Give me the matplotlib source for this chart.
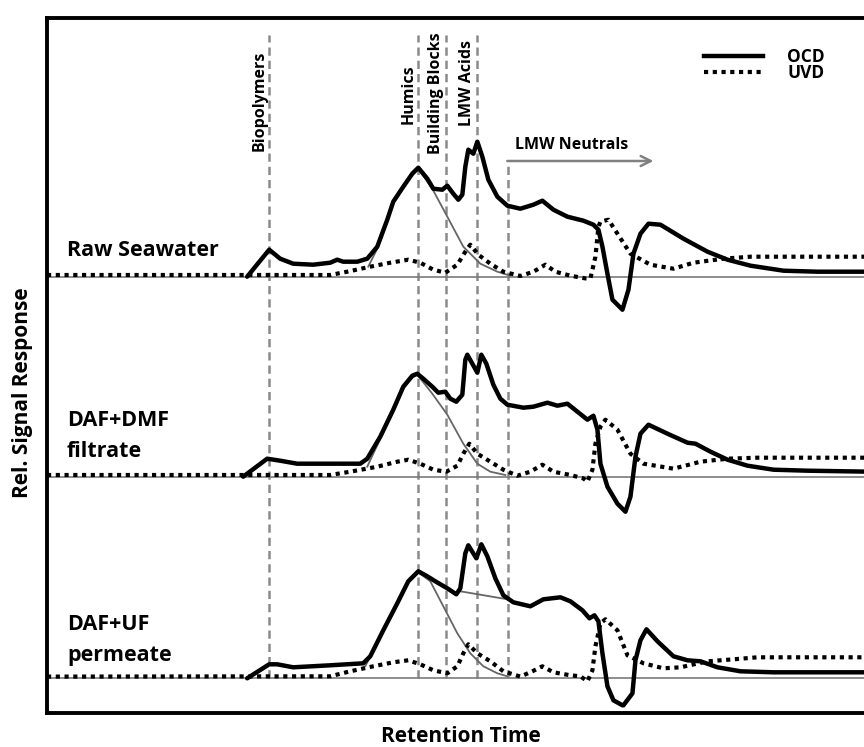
import matplotlib.pyplot as plt
from matplotlib.lines import Line2D

plt.rcParams['font.family'] = ['Open Sans', 'DejaVu Sans']
plt.rcParams['font.weight'] = 'bold'

# --- data (retention time in arbitrary units, signal height above each baseline) ---
samples = ['Raw Seawater', 'DAF+DMF\nfiltrate', 'DAF+UF\npermeate']
offsets = [470.3, 270.3, 68.7]

raw_ocd_x = [247, 269, 280, 293, 313, 330, 337, 343, 357, 367, 377, 387, 393, 403, 412, 418,
             427, 433, 442, 447, 453, 458, 462, 465, 468, 473, 477, 482, 488, 497, 507, 520,
             533, 542, 553, 567, 583, 593, 598, 602, 607, 612, 622, 628, 633, 640, 648, 660,
             683, 707, 727, 750, 783, 817, 870]
raw_ocd_h = [0, 27, 18, 13, 12, 14, 17, 15, 15, 18, 30, 57, 75, 90, 103, 109,
             98, 88, 87, 91, 83, 77, 82, 110, 127, 123, 135, 120, 97, 80, 71, 68,
             72, 76, 67, 60, 56, 52, 47, 30, 3, -23, -33, -13, 23, 43, 53, 52,
             38, 25, 17, 11, 6, 5, 5]
raw_uvd_x = [47, 330, 347, 370, 390, 408, 420, 433, 445, 457, 465, 470, 478, 490, 503, 520,
             533, 545, 555, 570, 585, 590, 595, 598, 600, 608, 617, 630, 650, 673, 693, 723,
             750, 870]
raw_uvd_h = [1.7, 1.7, 5, 10, 14, 17, 14, 7, 4, 12, 25, 32, 22, 13, 5, 0.7,
             5, 12, 5, 1, -1.7, -1.7, 20, 50, 55, 57, 43, 23, 12, 8, 14, 18,
             20, 20]
raw_fit_x = [368, 377, 387, 393, 403, 412, 418, 432, 447, 463, 480, 497, 510]
raw_fit_h = [10, 28, 55, 74, 89, 102, 108, 88, 60, 30, 13, 5, 1]

dmf_ocd_x = [243, 267, 280, 297, 330, 360, 367, 380, 393, 403, 412, 417, 423, 432, 438, 445,
             450, 456, 462, 465, 467, 472, 477, 481, 486, 493, 500, 507, 523, 533, 547, 557,
             567, 577, 587, 593, 597, 600, 607, 617, 625, 630, 635, 640, 648, 667, 687, 695,
             710, 727, 747, 773, 807, 870]
dmf_ocd_h = [0, 18, 16, 13, 13, 13, 18, 40, 67, 90, 101, 103, 98, 90, 84, 85,
             78, 75, 82, 117, 122, 113, 104, 122, 113, 92, 78, 72, 69, 70, 74, 71,
             73, 65, 57, 61, 47, 13, -10, -27, -35, -20, 20, 43, 52, 43, 34, 33,
             25, 17, 11, 7, 6, 5]
dmf_uvd_x = [47, 330, 350, 377, 397, 408, 420, 433, 446, 457, 463, 469, 477, 490, 503, 517,
             530, 542, 553, 570, 583, 587, 592, 595, 600, 605, 617, 630, 643, 673, 700, 727,
             757, 870]
dmf_uvd_h = [1.7, 1.7, 5, 10, 15, 17, 13, 7, 5, 11, 23, 33, 23, 15, 7, 1,
             5, 12, 5, 1.7, -1.7, -5, 7, 33, 50, 57, 47, 23, 13, 8, 15, 18,
             19, 19]
dmf_fit_x = [367, 380, 393, 403, 412, 417, 432, 447, 463, 477, 490, 505]
dmf_fit_h = [10, 38, 65, 88, 99, 102, 83, 62, 33, 13, 5, 1.7]

uf_ocd_x = [247, 269, 277, 293, 330, 363, 370, 383, 397, 408, 418, 427, 435, 447, 456, 460,
            465, 468, 476, 481, 487, 495, 503, 513, 530, 543, 560, 570, 582, 589, 594, 598,
            602, 607, 613, 622, 623, 632, 635, 640, 646, 657, 673, 687, 700, 717, 740, 773,
            870]
uf_ocd_h = [0, 14, 14, 11, 13, 15, 22, 48, 75, 97, 107, 102, 97, 90, 84, 90,
            125, 133, 120, 134, 122, 100, 83, 76, 72, 79, 81, 77, 68, 60, 63, 57,
            25, -8, -22, -27, -27, -15, 18, 38, 49, 37, 22, 18, 17, 11, 7, 6,
            6]
uf_uvd_x = [47, 330, 350, 373, 393, 408, 420, 433, 447, 457, 463, 468, 477, 490, 503, 520,
            532, 542, 553, 570, 580, 587, 592, 595, 600, 605, 617, 627, 643, 663, 680, 707,
            733, 757, 870]
uf_uvd_h = [1.7, 2, 7, 12, 16, 18, 14, 8, 5, 12, 25, 34, 25, 17, 7, 1.7,
            7, 12, 6, 3, 2, -3, 8, 32, 55, 59, 48, 23, 15, 10, 11, 17,
            19, 21, 21]
uf_fit_x = [365, 383, 397, 408, 418, 430, 443, 457, 470, 483, 497, 507]
uf_fit_h = [12, 47, 74, 96, 106, 97, 72, 45, 25, 12, 5, 2]
uf_tangent_x = [460, 507]
uf_tangent_h = [87, 79]

ocd = [(raw_ocd_x, raw_ocd_h), (dmf_ocd_x, dmf_ocd_h), (uf_ocd_x, uf_ocd_h)]
uvd = [(raw_uvd_x, raw_uvd_h), (dmf_uvd_x, dmf_uvd_h), (uf_uvd_x, uf_uvd_h)]
fits = [(raw_fit_x, raw_fit_h), (dmf_fit_x, dmf_fit_h), (uf_fit_x, uf_fit_h)]

fraction_names = ['Biopolymers', 'Humics', 'Building Blocks', 'LMW Acids']
fraction_x = [269, 418, 446, 477]
neutrals_x = 508
neutrals_arrow_end = 653

# --- figure ---
fig = plt.figure(figsize=(8.64, 7.47), dpi=100)
ax = fig.add_axes([47 / 864, 34 / 747, (864 - 47) / 864 + 0.01, (729 - 34) / 747])
ax.set_xlim(47, 872)
ax.set_ylim(34, 729)

for side in ['left', 'top', 'bottom']:
    ax.spines[side].set_linewidth(2.8)
ax.spines['right'].set_visible(False)
ax.set_xticks([])
ax.set_yticks([])

dash_kw = dict(color='#8a8a8a', lw=1.8, dashes=(3.3, 2.0), zorder=1)
for xv in fraction_x:
    ax.plot([xv, xv], [69, 712], **dash_kw)
ax.plot([neutrals_x, neutrals_x], [69, 586], **dash_kw)

for (ox, oh), (ux, uh), (fx, fh), base in zip(ocd, uvd, fits, offsets):
    ax.axhline(base, color='#7a7a7a', lw=1.2, zorder=2)
    ax.plot(fx, [base + v for v in fh], color='#666666', lw=1.3, zorder=3)
    ax.plot(ux, [base + v for v in uh], color='black', lw=3.0, dashes=(1, 1.1),
            dash_capstyle='butt', zorder=4)
    ax.plot(ox, [base + v for v in oh], color='black', lw=3.2,
            solid_joinstyle='round', solid_capstyle='round', zorder=5)

ax.plot(uf_tangent_x, [offsets[2] + v for v in uf_tangent_h], color='#666666', lw=1.3, zorder=3)

# sample names
ax.text(67, 497, samples[0], fontsize=15.5, ha='left', va='center')
ax.text(67, 311, samples[1], fontsize=15.5, ha='left', va='center', linespacing=1.6)
ax.text(67, 107, samples[2], fontsize=15.5, ha='left', va='center', linespacing=1.6)

# fraction labels
label_y = [646, 653, 654, 664]
for name, xv, yv in zip(fraction_names, fraction_x, label_y):
    ax.text(xv - 10, yv, name, rotation=90, fontsize=11.5, ha='center', va='center')

ax.annotate('', xy=(neutrals_arrow_end, 586), xytext=(neutrals_x - 1, 586),
            arrowprops=dict(arrowstyle='->', color='#808080', lw=1.8,
                            mutation_scale=18, shrinkA=0, shrinkB=0))
ax.text(515, 602, 'LMW Neutrals', fontsize=11.5, ha='left', va='center')

handles = [Line2D([], [], color='black', lw=3.2),
           Line2D([], [], color='black', lw=3.0, dashes=(1, 1.1), dash_capstyle='butt')]
fig.legend(handles, ['OCD', 'UVD'], loc='upper left', bbox_to_anchor=(704 / 864, 1 - 48 / 747),
           frameon=False, fontsize=12.5, handlelength=3.4, handletextpad=1.4,
           labelspacing=-0.1, borderpad=0, borderaxespad=0)

fig.text(23 / 864, 1 - 393 / 747, 'Rel. Signal Response', rotation=90, fontsize=15,
         ha='center', va='center')
fig.text(461 / 864, 1 - 736 / 747, 'Retention Time', fontsize=15, ha='center', va='center')

fig.savefig('out.png', dpi=100)
